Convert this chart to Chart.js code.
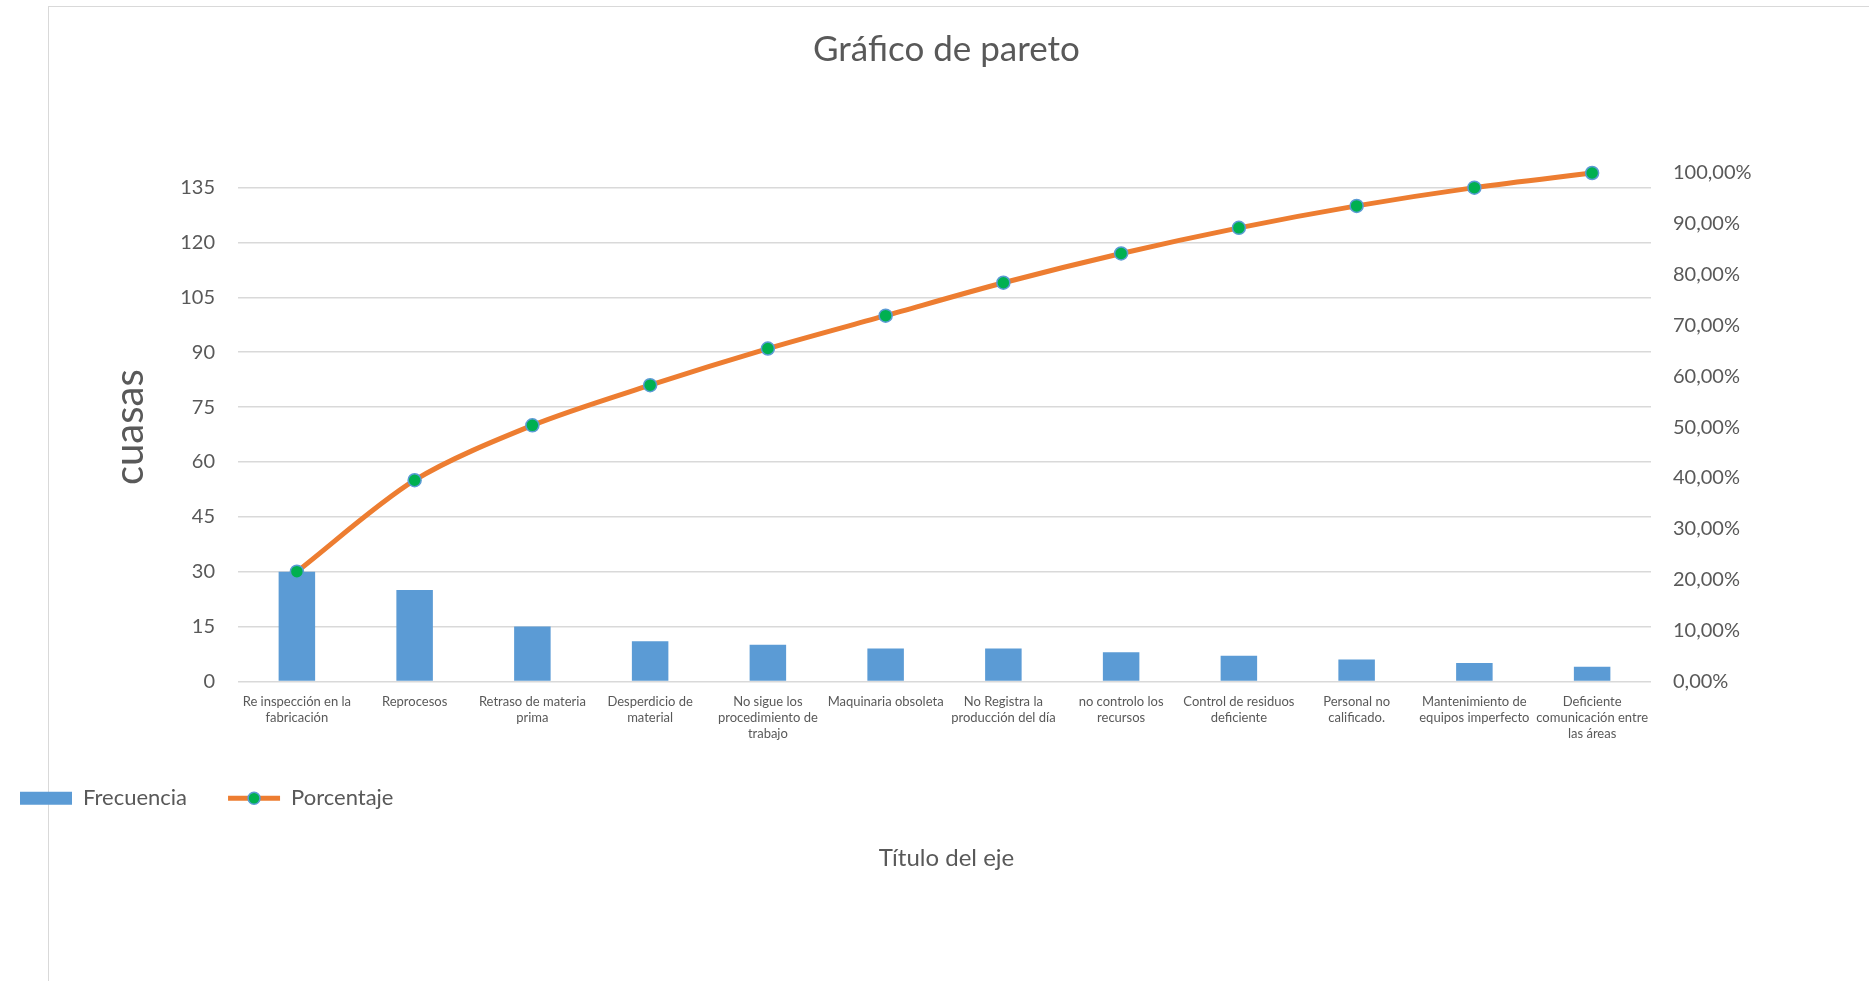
<!DOCTYPE html>
<html>
<head>
<meta charset="utf-8">
<title>Gráfico de pareto</title>
<script src="https://cdn.jsdelivr.net/npm/chart.js@4"></script>
<style>
  html, body { margin: 0; padding: 0; background: #fff; overflow: hidden; }
  #frame { position: absolute; left: 48px; top: 6px; width: 1900px; height: 1000px;
           border-left: 1.5px solid #d9d9d9; border-top: 1.5px solid #d9d9d9; }
  #wrap { position: absolute; left: 0; top: 0; width: 1914px; height: 981px; }
</style>
</head>
<body>
<div id="frame"></div>
<div id="wrap"><canvas id="paretoChart"></canvas></div>
<script>
// causas (etiquetas partidas en líneas como en Excel)
const causas = [
  ['Re inspección en la', 'fabricación'],
  ['Reprocesos'],
  ['Retraso de materia', 'prima'],
  ['Desperdicio de', 'material'],
  ['No sigue los', 'procedimiento de', 'trabajo'],
  ['Maquinaria obsoleta'],
  ['No Registra la', 'producción del día'],
  ['no controlo los', 'recursos'],
  ['Control de residuos', 'deficiente'],
  ['Personal no', 'calificado.'],
  ['Mantenimiento de', 'equipos imperfecto'],
  ['Deficiente', 'comunicación entre', 'las áreas']
];
const frecuencia = [30, 25, 15, 11, 10, 9, 9, 8, 7, 6, 5, 4];
const porcentaje = [21.58, 39.57, 50.36, 58.27, 65.47, 71.94, 78.42, 84.17, 89.21, 93.53, 97.12, 100];
const ticksIzq = [0, 15, 30, 45, 60, 75, 90, 105, 120, 135];
const ticksDer = [0, 10, 20, 30, 40, 50, 60, 70, 80, 90, 100];
const maxIzq = 139;

Chart.defaults.font.family = 'Lato';
Chart.defaults.color = '#595959';

// punto verde en medio de la línea de la leyenda, como en Excel
const marcaLeyenda = {
  id: 'marcaLeyenda',
  afterDraw(chart) {
    const hb = chart.legend.legendHitBoxes[1];
    if (!hb) return;
    const c = chart.ctx;
    c.save();
    c.beginPath();
    c.arc(hb.left + 26, hb.top + 11, 6, 0, Math.PI * 2);
    c.fillStyle = '#00B050';
    c.fill();
    c.lineWidth = 1.5;
    c.strokeStyle = '#5B9BD5';
    c.stroke();
    c.restore();
  }
};

document.addEventListener('DOMContentLoaded', function () {
  const ctx = document.getElementById('paretoChart').getContext('2d');

  new Chart(ctx, {
    type: 'bar',
    data: {
      labels: causas,
      datasets: [{
        type: 'bar',
        label: 'Frecuencia',
        data: frecuencia,
        backgroundColor: '#5B9BD5',
        borderWidth: 0,
        categoryPercentage: 1,
        barPercentage: 0.31,
        yAxisID: 'y',
        order: 1
      }, {
        type: 'line',
        label: 'Porcentaje',
        data: porcentaje,
        borderColor: '#ED7D31',
        backgroundColor: '#ED7D31',
        borderWidth: 5,
        tension: 0.3,
        pointRadius: 6.5,
        pointBackgroundColor: '#00B050',
        pointBorderColor: '#5B9BD5',
        pointBorderWidth: 1.5,
        clip: false,
        yAxisID: 'y1',
        order: 0
      }]
    },
    options: {
      responsive: true,
      maintainAspectRatio: false,
      animation: false,
      layout: { padding: { left: -21, right: 0, top: 0, bottom: 0 } },
      plugins: {
        title: {
          display: true,
          text: 'Gráfico de pareto',
          font: { size: 35, weight: 'normal' },
          color: '#595959',
          padding: { top: 29, bottom: 102 }
        },
        subtitle: {
          display: true,
          position: 'bottom',
          text: 'Título del eje',
          font: { size: 24, weight: 'normal' },
          color: '#595959',
          padding: { top: 25, bottom: 108 }
        },
        legend: {
          position: 'bottom',
          align: 'start',
          labels: {
            font: { size: 22 },
            color: '#595959',
            padding: 41,
            usePointStyle: true,
            pointStyleWidth: 52,
            boxHeight: 13,
            sort: (a, b) => a.datasetIndex - b.datasetIndex,
            generateLabels: function (chart) {
              const items = Chart.defaults.plugins.legend.labels.generateLabels(chart);
              items.forEach(it => {
                if (it.datasetIndex === 0) {
                  it.pointStyle = 'rect';
                  it.lineWidth = 0;
                } else {
                  it.pointStyle = 'line';
                  it.strokeStyle = '#ED7D31';
                  it.lineWidth = 5;
                }
              });
              return items;
            }
          }
        },
        tooltip: { enabled: false }
      },
      scales: {
        x: {
          grid: { display: false },
          border: { display: false },
          ticks: { autoSkip: false, maxRotation: 0, font: { size: 13 }, padding: 5, color: '#595959' }
        },
        y: {
          position: 'left',
          min: 0,
          max: maxIzq,
          afterBuildTicks: s => { s.ticks = ticksIzq.map(v => ({ value: v })); },
          afterFit: s => { s.width = 259; },
          grid: { color: '#D9D9D9', lineWidth: 1.5, drawTicks: false },
          border: { display: false },
          ticks: { font: { size: 20 }, padding: 23, color: '#595959' },
          title: {
            display: true,
            text: 'cuasas',
            font: { size: 40 },
            color: '#595959',
            padding: { top: 127, bottom: 20 }
          }
        },
        y1: {
          position: 'right',
          min: 0,
          max: 100,
          afterBuildTicks: s => { s.ticks = ticksDer.map(v => ({ value: v })); },
          afterFit: s => { s.width = 263; },
          grid: { display: false, drawTicks: false },
          border: { display: false },
          ticks: {
            font: { size: 20 },
            padding: 22,
            color: '#595959',
            callback: v => v.toFixed(2).replace('.', ',') + '%'
          }
        }
      }
    },
    plugins: [marcaLeyenda]
  });
});
</script>
</body>
</html>
